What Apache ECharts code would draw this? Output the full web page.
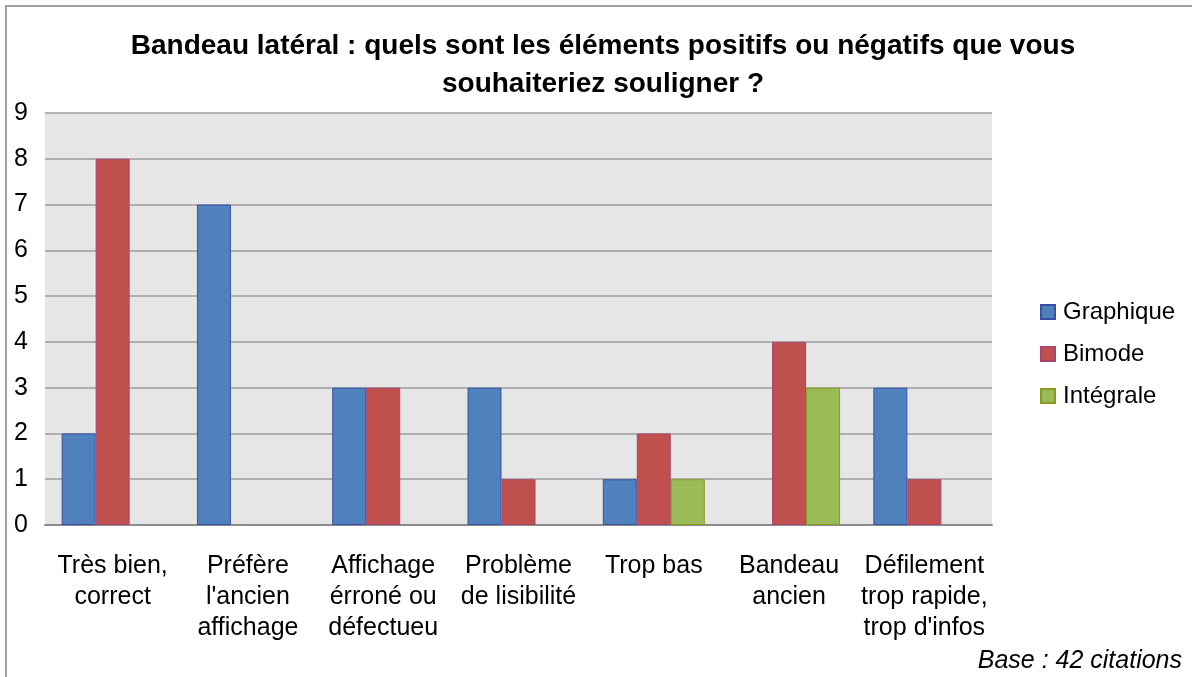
<!DOCTYPE html>
<html>
<head>
<meta charset="utf-8">
<script src="https://cdn.jsdelivr.net/npm/echarts@6/dist/echarts.min.js"></script>
<style>
  html, body { margin: 0; padding: 0; background: #fff; }
  #chart { width: 1192px; height: 677px; }
</style>
</head>
<body>
<div id="chart"></div>
<script>
// Categories and counts per display mode
const categories = [
  'Très bien,\ncorrect',
  'Préfère\nl\'ancien\naffichage',
  'Affichage\nérroné ou\ndéfectueu',
  'Problème\nde lisibilité',
  'Trop bas',
  'Bandeau\nancien',
  'Défilement\ntrop rapide,\ntrop d\'infos'
];
const graphique = [2, 7, 3, 3, 1, 0, 3];
const bimode    = [8, 0, 3, 1, 2, 4, 1];
const integrale = [0, 0, 0, 0, 1, 3, 0];
const yTicks = [0, 1, 2, 3, 4, 5, 6, 7, 8, 9];

const FONT = '"Liberation Sans", Arial, sans-serif';

// zero counts are left empty instead of drawing a flat bar
const asBars = arr => arr.map(v => (v === 0 ? '-' : v));

function barSeries(name, data, fill, stroke) {
  return {
    name: name,
    type: 'bar',
    data: asBars(data),
    barWidth: 34,
    barGap: '0%',
    itemStyle: { color: fill, borderColor: stroke, borderWidth: 1 },
    emphasis: { disabled: true }
  };
}

const chart = echarts.init(document.getElementById('chart'), null, { renderer: 'canvas' });
chart.setOption({
  animation: false,
  backgroundColor: '#ffffff',
  title: {
    text: 'Bandeau latéral : quels sont les éléments positifs ou négatifs que vous\nsouhaiteriez souligner ?',
    left: 598,
    top: 22,
    textAlign: 'center',
    textStyle: { fontFamily: FONT, fontSize: 28, fontWeight: 'bold', color: '#000', lineHeight: 38 }
  },
  legend: {
    orient: 'vertical',
    left: 1040,
    top: 300,
    padding: 0,
    itemWidth: 14,
    itemHeight: 14,
    itemGap: 18,
    icon: 'rect',
    textStyle: { fontFamily: FONT, fontSize: 24, color: '#000', padding: [0, 0, 0, 3] },
    data: ['Graphique', 'Bimode', 'Intégrale']
  },
  grid: {
    left: 45, right: 200, top: 113, bottom: 152,
    show: true, backgroundColor: '#e6e6e6', borderWidth: 0
  },
  xAxis: {
    type: 'category',
    data: categories,
    axisLine: { show: true, lineStyle: { color: '#8c8c8c', width: 2 } },
    axisTick: { show: false },
    axisLabel: {
      interval: 0, margin: 26,
      fontFamily: FONT, fontSize: 25, color: '#000', lineHeight: 31
    }
  },
  yAxis: {
    type: 'value',
    min: yTicks[0],
    max: yTicks[yTicks.length - 1],
    interval: 1,
    axisLine: { show: false },
    axisTick: { show: false },
    splitLine: { show: true, lineStyle: { color: '#9c9c9c', width: 1.5 } },
    axisLabel: { margin: 17, fontFamily: FONT, fontSize: 25, color: '#000' }
  },
  series: [
    barSeries('Graphique', graphique, '#4f81bd', '#3c4fa8'),
    barSeries('Bimode', bimode, '#c0504d', '#a8456e'),
    barSeries('Intégrale', integrale, '#9bbb59', '#8a9a1c')
  ],
  graphic: [
    {
      type: 'rect',
      shape: { x: 6, y: 6, width: 1200, height: 700 },
      style: { fill: 'none', stroke: '#a0a0a0', lineWidth: 2 },
      silent: true
    },
    {
      type: 'text',
      x: 1182, y: 661,
      style: {
        text: 'Base : 42 citations',
        fontFamily: FONT, fontSize: 25, fontStyle: 'italic',
        fill: '#000', align: 'right', verticalAlign: 'middle'
      }
    }
  ]
});
</script>
</body>
</html>
